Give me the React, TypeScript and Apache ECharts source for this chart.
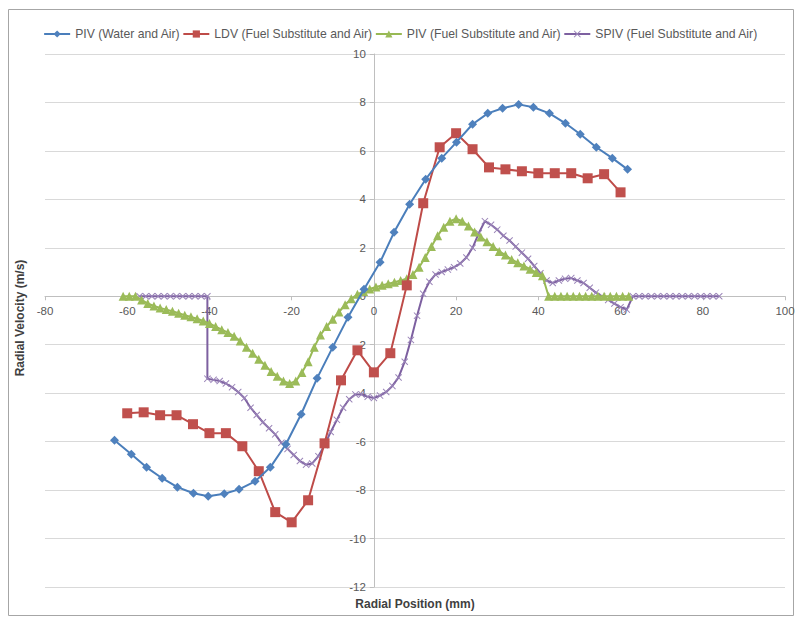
import React, { useEffect, useRef } from 'react';
import * as echarts from 'echarts';

const seriesNames = [
  'PIV (Water and Air)',
  'LDV (Fuel Substitute and Air)',
  'PIV (Fuel Substitute and Air)',
  'SPIV (Fuel Substitute and Air)',
];

const xTicks = { min: -80, max: 100, interval: 20 };
const yTicks = { min: -12, max: 10, interval: 2 };

const pivWater: [number, number][] = [
  [-63.1, -5.94], [-59.0, -6.52], [-55.3, -7.06], [-51.5, -7.51], [-47.8, -7.88],
  [-43.9, -8.13], [-40.3, -8.25], [-36.4, -8.15], [-32.8, -7.97], [-28.9, -7.64],
  [-25.2, -7.06], [-21.4, -6.11], [-17.7, -4.87], [-13.8, -3.38], [-10.0, -2.1],
  [-6.3, -0.87], [-2.4, 0.29], [1.5, 1.4], [4.9, 2.64], [8.7, 3.8],
  [12.6, 4.83], [16.5, 5.7], [20.1, 6.36], [24.0, 7.1], [27.7, 7.55],
  [31.3, 7.76], [35.2, 7.92], [38.8, 7.8], [42.7, 7.55], [46.6, 7.14],
  [50.2, 6.69], [54.1, 6.15], [58.0, 5.7], [61.7, 5.24],
];

const ldvFuel: [number, number][] = [
  [-60, -4.83], [-56, -4.79], [-52, -4.91], [-48, -4.91], [-44, -5.28],
  [-40, -5.65], [-36, -5.65], [-32, -6.19], [-28, -7.22], [-24, -8.91],
  [-20, -9.33], [-16, -8.42], [-12, -6.07], [-8, -3.47], [-4, -2.23],
  [0, -3.14], [4, -2.35], [8, 0.45], [12, 3.84], [16, 6.15],
  [20, 6.73], [24, 6.07], [28, 5.32], [32, 5.24], [36, 5.16],
  [40, 5.08], [44, 5.08], [48, 5.08], [52, 4.87], [56, 5.04],
  [60, 4.29],
];

const pivFuel: [number, number][] = [
  [-61, 0], [-59.5, 0], [-58, 0], [-56.5, -0.15], [-55, -0.3], [-53.5, -0.4],
  [-52, -0.48], [-50.5, -0.55], [-49, -0.62], [-47.5, -0.7], [-46, -0.78],
  [-44.5, -0.85], [-43, -0.93], [-41.5, -1.02], [-40, -1.12], [-38.5, -1.25],
  [-37, -1.38], [-35.5, -1.5], [-34, -1.65], [-32.5, -1.85], [-31, -2.1],
  [-29.5, -2.35], [-28, -2.6], [-26.5, -2.85], [-25, -3.1], [-23.5, -3.3],
  [-22, -3.5], [-20.5, -3.6], [-19, -3.5], [-17.5, -3.15], [-16, -2.7],
  [-14.5, -2.1], [-13, -1.6], [-11.5, -1.25], [-10, -0.95], [-8.5, -0.65],
  [-7, -0.35], [-5.5, -0.1], [-4, 0.08], [-2.5, 0.2], [-1, 0.3],
  [0.5, 0.38], [2, 0.45], [3.5, 0.52], [5, 0.58], [6.5, 0.65],
  [8, 0.72], [9.5, 0.9], [11, 1.2], [12.5, 1.6], [14, 2.05],
  [15.5, 2.5], [17, 2.85], [18.5, 3.1], [20, 3.2], [21.5, 3.1],
  [23, 2.9], [24.5, 2.65], [26, 2.45], [27.5, 2.25], [29, 2.05],
  [30.5, 1.85], [32, 1.7], [33.5, 1.52], [35, 1.38], [36.5, 1.25],
  [38, 1.12], [39.5, 0.98], [41, 0.85], [42.5, 0], [44, 0],
  [45.5, 0], [47, 0], [48.5, 0], [50, 0], [51.5, 0], [53, 0],
  [54.5, 0], [56, 0], [57.5, 0], [59, 0], [60.5, 0], [62, 0],
];

const spivFuel: [number, number][] = [
  [-57, 0], [-55.5, 0], [-54, 0], [-52.5, 0], [-51, 0], [-49.5, 0],
  [-48, 0], [-46.5, 0], [-45, 0], [-43.5, 0], [-42, 0], [-40.5, 0],
  [-40.5, -3.4], [-39, -3.45], [-37.5, -3.5], [-36, -3.6], [-34.5, -3.75],
  [-33, -3.95], [-31.5, -4.2], [-30, -4.6], [-28.5, -4.9], [-27, -5.2],
  [-25.5, -5.45], [-24, -5.7], [-22.5, -6.05], [-21, -6.3], [-19.5, -6.55],
  [-18, -6.8], [-16.5, -6.95], [-15, -6.9], [-13.5, -6.6], [-12, -6.15],
  [-10.5, -5.6], [-9, -5.1], [-7.5, -4.6], [-6, -4.25], [-4.5, -4.05],
  [-3, -4.05], [-1.5, -4.15], [0, -4.2], [1.5, -4.1], [3, -3.95],
  [4.5, -3.7], [6, -3.35], [7.5, -2.7], [9, -1.8], [10.5, -0.8],
  [12, 0.1], [13.5, 0.6], [15, 0.9], [16.5, 1.0], [18, 1.1],
  [19.5, 1.2], [21, 1.35], [22.5, 1.6], [24, 2.0], [25.5, 2.6],
  [27, 3.1], [28.5, 2.95], [30, 2.75], [31.5, 2.5], [33, 2.3],
  [34.5, 2.05], [36, 1.8], [37.5, 1.55], [39, 1.25], [40.5, 0.95],
  [42, 0.65], [43.5, 0.55], [45, 0.65], [46.5, 0.72], [48, 0.75],
  [49.5, 0.65], [51, 0.55], [52.5, 0.35], [54, 0.15], [55.5, 0.0],
  [57, -0.15], [58.5, -0.3], [60, -0.45], [61.5, -0.55], [63, 0],
  [64.5, 0], [66, 0], [67.5, 0], [69, 0], [70.5, 0], [72, 0],
  [73.5, 0], [75, 0], [76.5, 0], [78, 0], [79.5, 0], [81, 0],
  [82.5, 0], [84, 0],
];

const colors = ['#4A7EBB', '#BE4B48', '#98B954', '#7D60A0'];
const markerColors = ['#4F81BD', '#C0504D', '#9BBB59', '#9A84B8'];
const FONT = 'Liberation Sans, Arial, sans-serif';
const X_SYMBOL = 'path://M0,1 L1,0 L5,4 L9,0 L10,1 L6,5 L10,9 L9,10 L5,6 L1,10 L0,9 L4,5 Z';

const GRID_LEFT = 45;
const GRID_RIGHT = 16;
const GRID_TOP = 54;
const GRID_BOTTOM = 35;
const CHART_W = 801;
const CHART_H = 622;

export default function App() {
  const ref = useRef<HTMLDivElement>(null);
  useEffect(() => {
    document.body.style.margin = '0';
    const chart = echarts.init(ref.current!, null, { renderer: 'svg' });
    const datasets = [pivWater, ldvFuel, pivFuel, spivFuel];
    const symbols = ['diamond', 'rect', 'triangle', X_SYMBOL];
    const sizes = [9, 10, 9, 7];
    const plotW = CHART_W - GRID_LEFT - GRID_RIGHT;
    const plotH = CHART_H - GRID_TOP - GRID_BOTTOM;
    const yAxisOffset = -((0 - xTicks.min) / (xTicks.max - xTicks.min)) * plotW;
    const xAxisOffset = -((0 - yTicks.min) / (yTicks.max - yTicks.min)) * plotH;
    chart.setOption({
      animation: false,
      backgroundColor: '#ffffff',
      textStyle: { fontFamily: FONT },
      legend: {
        top: 23,
        left: 'center',
        itemWidth: 26,
        itemHeight: 9,
        itemGap: 2,
        textStyle: { fontSize: 12.2, color: '#595959', fontFamily: FONT },
        data: seriesNames,
      },
      grid: { left: GRID_LEFT, right: GRID_RIGHT, top: GRID_TOP, bottom: GRID_BOTTOM, containLabel: false },
      xAxis: {
        type: 'value',
        min: xTicks.min,
        max: xTicks.max,
        interval: xTicks.interval,
        position: 'bottom',
        offset: xAxisOffset,
        axisLine: { show: true, onZero: false, lineStyle: { color: '#bfbfbf', width: 1 } },
        axisTick: { show: true, length: 4, lineStyle: { color: '#bfbfbf' } },
        axisLabel: { color: '#595959', fontSize: 11.5, fontFamily: FONT, margin: 9 },
        splitLine: { show: false },
      },
      yAxis: {
        type: 'value',
        min: yTicks.min,
        max: yTicks.max,
        interval: yTicks.interval,
        position: 'left',
        offset: yAxisOffset,
        axisLine: { show: true, onZero: false, lineStyle: { color: '#bfbfbf', width: 1 } },
        axisTick: { show: true, length: 4, lineStyle: { color: '#bfbfbf' } },
        axisLabel: { color: '#595959', fontSize: 11.5, fontFamily: FONT, margin: 8 },
        splitLine: { show: true, lineStyle: { color: '#d9d9d9', width: 1 } },
      },
      series: datasets.map((d, i) => ({
        name: seriesNames[i],
        type: 'line',
        data: d,
        symbol: symbols[i],
        symbolSize: sizes[i],
        showAllSymbol: true,
        lineStyle: { color: colors[i], width: 2 },
        itemStyle: { color: markerColors[i] },
        z: 10 - i,
      })),
      graphic: [
        {
          type: 'rect',
          shape: { x: 8.5, y: 9.5, width: 785, height: 606 },
          style: { fill: 'none', stroke: '#a6a6a6', lineWidth: 1 },
          silent: true,
        },
        {
          type: 'text',
          x: 415,
          y: 604,
          style: {
            text: 'Radial Position (mm)',
            fontSize: 12,
            fontWeight: 'bold',
            fill: '#404040',
            fontFamily: FONT,
            textAlign: 'center',
            textVerticalAlign: 'middle',
          },
        },
        {
          type: 'text',
          x: 20,
          y: 318,
          rotation: Math.PI / 2,
          style: {
            text: 'Radial Velocity (m/s)',
            fontSize: 12,
            fontWeight: 'bold',
            fill: '#404040',
            fontFamily: FONT,
            textAlign: 'center',
            textVerticalAlign: 'middle',
          },
        },
      ],
    });
    return () => chart.dispose();
  }, []);
  return <div ref={ref} style={{ width: 801, height: 622 }} />;
}
